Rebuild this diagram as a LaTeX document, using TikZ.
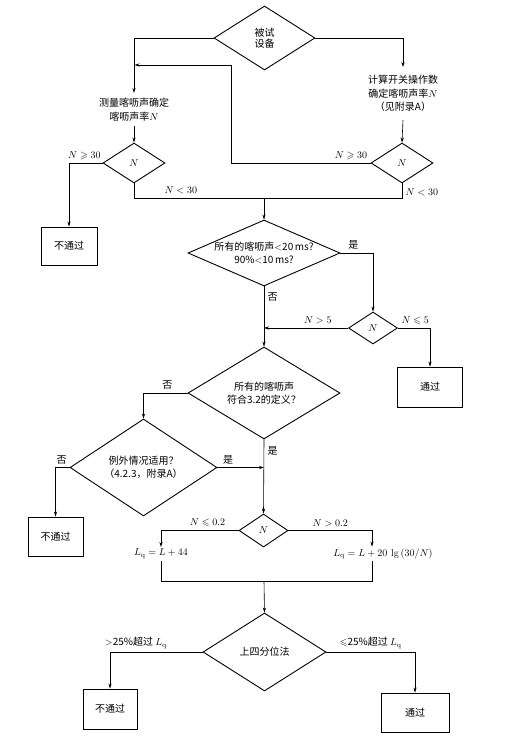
\documentclass[tikz,border=0pt]{standalone}
\usepackage{fontspec}
\usepackage{amssymb}
\newfontfamily\cjk{Noto Sans CJK SC}
\usetikzlibrary{shapes.geometric,arrows.meta}
\begin{document}
\begin{tikzpicture}[x=1pt,y=-1pt,
		every node/.style={font=\cjk\fontsize{10}{13.5}\selectfont},
		dia/.style={diamond,draw,line width=0.9pt,inner sep=0pt},
		box/.style={draw,line width=0.9pt,inner sep=0pt},
		txt/.style={align=center,inner xsep=2pt},
		con/.style={line width=0.6pt},
		arr/.style={con,-{Stealth[length=5pt,width=3.2pt]}}]
	\useasboundingbox (0,0) rectangle (510,741);

	\node[dia,minimum width=101,minimum height=64,label={[txt]center:被试\\[-2pt]设备}] (d0) at (264.5,38) {};
	\node[txt,anchor=north,inner ysep=5pt] (m1) at (134,93) {测量喀呖声确定\\喀呖声率$N$};
	\node[txt,anchor=north,inner ysep=8pt] (c1) at (403,67) {计算开关操作数\\确定喀呖声率$N$\\（见附录A）};
	\node[dia,minimum width=62,minimum height=40] (n1) at (134,163) {$N$};
	\node[dia,minimum width=62,minimum height=40] (n2) at (402,163) {$N$};
	\node[box,minimum width=56,minimum height=38] (f1) at (69,246) {不通过};
	\coordinate (k1) at (231,65);
	\coordinate (k2) at (134.5,65);
	\coordinate (j1) at (264,198);

	\node[dia,minimum width=152,minimum height=66,label={[txt]center:所有的喀呖声$<$20\,ms?\\90\%$<$10\,ms?}] (q1) at (264,253) {};
	\node[dia,minimum width=49,minimum height=32] (n3) at (373,328) {$N$};
	\node[box,minimum width=65,minimum height=40] (p1) at (430,387) {通过};
	\coordinate (j2) at (264,328);

	\node[dia,minimum width=152,minimum height=92,label={[txt]center:所有的喀呖声\\符合3.2的定义？}] (q2) at (264,393) {};
	\node[dia,minimum width=147,minimum height=97,label={[txt]center:例外情况适用？\\（4.2.3，附录A）}] (q3) at (143.5,467.5) {};
	\node[box,minimum width=55,minimum height=39] (f2) at (55.5,536.5) {不通过};
	\coordinate (j3) at (264,467.5);

	\node[dia,minimum width=49,minimum height=33] (n4) at (263.5,530.5) {$N$};
	\node[txt,inner ysep=2pt] (r1) at (161,554) {$L_{\mathrm q}=L+44$};
	\node[txt,inner ysep=2pt] (r2) at (383,554) {$L_{\mathrm q}=L+20\ \lg\,(30/N)$};
	\coordinate (j4) at (264,581);

	\node[dia,minimum width=123,minimum height=78,label={center:上四分位法}] (q4) at (264.5,652) {};
	\node[box,minimum width=54,minimum height=40] (f3) at (110,709) {不通过};
	\node[box,minimum width=68,minimum height=39] (p2) at (415,712.5) {通过};

	\draw[arr] (d0.west) -| (m1.north);
	\draw[arr] (d0.east) -| (c1.north);
	\draw[arr] (m1.south) -- (n1.north);
	\draw[arr] (c1.south) -- (n2.north);
	\draw[arr] (n1.west) -| node[pos=0.27,above]{$N\geqslant30$} (f1.north);
	\draw[arr] (n2.west) -| node[pos=0.07,above]{$N\geqslant30$} (k1) -- (k2);
	\draw[con] (n1.south) |- node[pos=0.68,above]{$N<30$} (j1);
	\draw[con] (n2.south) |- node[pos=0.3,right]{$N<30$} (j1);
	\draw[arr] (j1) -- (q1.north);

	\draw[arr] (q1.east) -| node[pos=0.2,above]{是} (n3.north);
	\draw[arr] (n3.west) -- node[pos=0.36,above]{$N>5$} (j2);
	\draw[arr] (n3.east) -| node[pos=0.27,above]{$N\leqslant5$} (p1.north);
	\draw[arr] (q1.south) -- node[pos=0.18,right]{否} (q2.north);

	\draw[arr] (q2.west) -| node[pos=0.23,above]{否} (q3.north);
	\draw[arr] (q3.west) -| node[pos=0.28,above]{否} (f2.north);
	\draw[arr] (q3.east) -- node[pos=0.23,above]{是} (j3);
	\draw[arr] (q2.south) -- node[pos=0.15,right]{是} (n4.north);

	\draw[arr] (n4.west) -| node[pos=0.2,above]{$N\leqslant0.2$} (r1.north);
	\draw[arr] (n4.east) -| node[pos=0.25,above]{$N>0.2$} ([xshift=-11]r2.north);
	\draw[con] (r1.south) |- (j4);
	\draw[con] ([xshift=-11]r2.south) |- (j4);
	\draw[arr] (j4) -- (q4.north);

	\draw[arr] (q4.west) -| node[pos=0.36,above]{$>$25\%超过 $L_{\mathrm q}$} (f3.north);
	\draw[arr] (q4.east) -| node[pos=0.25,above]{$\leqslant$25\%超过 $L_{\mathrm q}$} (p2.north);
\end{tikzpicture}
\end{document}
